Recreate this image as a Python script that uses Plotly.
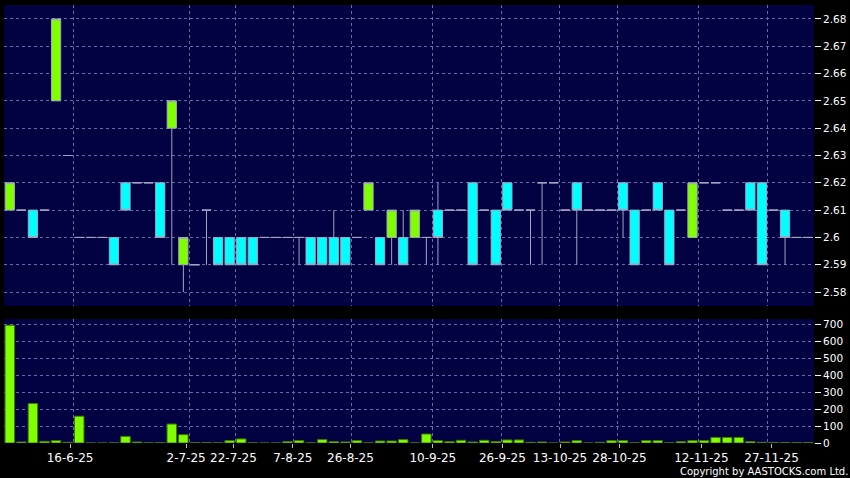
import plotly.graph_objects as go
from plotly.subplots import make_subplots

# ---- data ----
opens = [2.61, 2.61, 2.61, 2.61, 2.65, 2.63, 2.60, 2.60, 2.60, 2.60,
         2.62, 2.62, 2.62, 2.62, 2.64, 2.59, 2.59, 2.61, 2.60, 2.60,
         2.60, 2.60, 2.60, 2.60, 2.60, 2.60, 2.60, 2.60, 2.60, 2.60,
         2.60, 2.61, 2.60, 2.60, 2.60, 2.60, 2.60, 2.61, 2.61, 2.61,
         2.62, 2.61, 2.61, 2.62, 2.61, 2.61, 2.62, 2.62, 2.61, 2.62,
         2.61, 2.61, 2.61, 2.62, 2.61, 2.61, 2.62, 2.61, 2.61, 2.60,
         2.62, 2.62, 2.61, 2.61, 2.62, 2.62, 2.61, 2.61, 2.60, 2.60]
highs = [2.62, 2.61, 2.61, 2.61, 2.68, 2.63, 2.60, 2.60, 2.60, 2.60,
         2.62, 2.62, 2.62, 2.62, 2.65, 2.60, 2.59, 2.61, 2.60, 2.60,
         2.60, 2.60, 2.60, 2.60, 2.60, 2.60, 2.60, 2.60, 2.61, 2.60,
         2.60, 2.62, 2.60, 2.61, 2.61, 2.61, 2.60, 2.62, 2.61, 2.61,
         2.62, 2.61, 2.61, 2.62, 2.61, 2.61, 2.62, 2.62, 2.61, 2.62,
         2.61, 2.61, 2.61, 2.62, 2.61, 2.61, 2.62, 2.61, 2.61, 2.62,
         2.62, 2.62, 2.61, 2.61, 2.62, 2.62, 2.61, 2.61, 2.60, 2.60]
lows = [2.61, 2.61, 2.60, 2.61, 2.65, 2.63, 2.60, 2.60, 2.60, 2.59,
        2.61, 2.62, 2.62, 2.60, 2.59, 2.58, 2.59, 2.59, 2.59, 2.59,
        2.59, 2.59, 2.60, 2.60, 2.60, 2.59, 2.59, 2.59, 2.59, 2.59,
        2.60, 2.61, 2.59, 2.59, 2.59, 2.60, 2.59, 2.59, 2.61, 2.61,
        2.59, 2.61, 2.59, 2.61, 2.61, 2.59, 2.59, 2.62, 2.61, 2.59,
        2.61, 2.61, 2.61, 2.60, 2.59, 2.61, 2.61, 2.59, 2.61, 2.60,
        2.62, 2.62, 2.61, 2.61, 2.61, 2.59, 2.61, 2.59, 2.60, 2.60]
closes = [2.62, 2.61, 2.60, 2.61, 2.68, 2.63, 2.60, 2.60, 2.60, 2.59,
          2.61, 2.62, 2.62, 2.60, 2.65, 2.60, 2.59, 2.61, 2.59, 2.59,
          2.59, 2.59, 2.60, 2.60, 2.60, 2.60, 2.59, 2.59, 2.59, 2.59,
          2.60, 2.62, 2.59, 2.61, 2.59, 2.61, 2.60, 2.60, 2.61, 2.61,
          2.59, 2.61, 2.59, 2.61, 2.61, 2.61, 2.62, 2.62, 2.61, 2.61,
          2.61, 2.61, 2.61, 2.61, 2.59, 2.61, 2.61, 2.59, 2.61, 2.62,
          2.62, 2.62, 2.61, 2.61, 2.61, 2.59, 2.61, 2.60, 2.60, 2.60]
volumes = [695, 6, 233, 10, 14, 4, 158, 0, 0, 1,
           39, 6, 1, 2, 112, 49, 2, 2, 1, 14,
           24, 1, 0, 0, 8, 14, 1, 20, 8, 6,
           14, 1, 12, 12, 20, 1, 53, 14, 8, 16,
           6, 16, 8, 18, 18, 4, 6, 0, 6, 14,
           0, 4, 14, 14, 1, 14, 14, 1, 8, 14,
           14, 33, 33, 33, 8, 4, 3, 3, 3, 3]

tick_labels = ["16-6-25", "2-7-25", "22-7-25", "7-8-25", "26-8-25", "10-9-25",
               "26-9-25", "13-10-25", "28-10-25", "12-11-25", "27-11-25"]
tick_pos = [5.21, 15.24, 19.33, 24.46, 29.44, 36.56, 42.57, 47.55, 52.69, 59.77, 65.83]
grid_pos = [5.5, 15.5, 19.5, 24.5, 29.5, 36.5, 42.5, 47.5, 52.5, 59.5, 65.5]
price_ticks = [2.58, 2.59, 2.60, 2.61, 2.62, 2.63, 2.64, 2.65, 2.66, 2.67, 2.68]
price_tick_text = ["2.58", "2.59", "2.6", "2.61", "2.62", "2.63", "2.64", "2.65", "2.66", "2.67", "2.68"]
vol_ticks = [0, 100, 200, 300, 400, 500, 600, 700]

x = list(range(len(opens)))

# ---- styles ----
BG = "#020242"
GRID = "#6a6aa8"
DASH = "3px,3px"
GREEN = "#80FF00"
CYAN = "#00FFFF"
WICK = "#a4a4c4"
FONT = "DejaVu Sans"

fig = make_subplots(rows=2, cols=1, shared_xaxes=True, vertical_spacing=0.03)

fig.add_trace(go.Candlestick(
    x=x, open=opens, high=highs, low=lows, close=closes,
    increasing=dict(fillcolor=GREEN, line=dict(color=WICK, width=1)),
    decreasing=dict(fillcolor=CYAN, line=dict(color=WICK, width=1)),
    whiskerwidth=0, hoverinfo="skip", showlegend=False,
), row=1, col=1)

fig.add_trace(go.Bar(
    x=x, y=volumes,
    marker=dict(color=GREEN, line=dict(color="#3d7a00", width=1)),
    hoverinfo="skip", showlegend=False,
), row=2, col=1)

xcommon = dict(
    range=[-0.5, 69.5], showgrid=False, zeroline=False, showline=False,
    tickmode="array", tickvals=tick_pos, ticktext=tick_labels,
    minor=dict(tickmode="array", tickvals=grid_pos, showgrid=True,
               gridcolor=GRID, griddash=DASH, gridwidth=1, ticks=""),
)
fig.update_xaxes(**xcommon)
fig.update_xaxes(showticklabels=False, ticks="", rangeslider_visible=False, row=1, col=1)
fig.update_xaxes(showticklabels=True, ticks="outside", ticklen=4, tickcolor="#c0c0c0",
                 tickfont=dict(family=FONT, size=12, color="white"), row=2, col=1)

fig.update_yaxes(
    side="right", domain=[0.3128, 1.0], range=[2.5749, 2.6851],
    tickmode="array", tickvals=price_ticks, ticktext=price_tick_text,
    showgrid=True, gridcolor=GRID, griddash=DASH, gridwidth=1, zeroline=False,
    ticks="outside", ticklen=6, tickcolor="white",
    tickfont=dict(family=FONT, size=10.5, color="white"),
    row=1, col=1)
fig.update_yaxes(
    side="right", domain=[0.0, 0.2831], range=[0, 732],
    tickmode="array", tickvals=vol_ticks,
    showgrid=True, gridcolor=GRID, griddash=DASH, gridwidth=1, zeroline=False,
    ticks="outside", ticklen=6, tickcolor="white",
    tickfont=dict(family=FONT, size=10.5, color="white"),
    row=2, col=1)

fig.add_annotation(
    text="Copyright by AASTOCKS.com Ltd.", xref="paper", yref="paper",
    x=1.045, y=-0.064, xanchor="right", yanchor="middle", showarrow=False,
    font=dict(family=FONT, size=10, color="white"))

fig.update_layout(
    width=850, height=478,
    margin=dict(l=4, r=36, t=5, b=35),
    paper_bgcolor="black", plot_bgcolor=BG,
    boxgap=0.2, boxgroupgap=0, bargap=0.18,
    hovermode=False, showlegend=False,
    font=dict(family=FONT, color="white"),
)

fig.write_html(
    "out.html",
    config={"displayModeBar": False},
    post_script="document.body.style.margin='0';document.body.style.background='black';document.body.style.overflow='hidden';",
)
